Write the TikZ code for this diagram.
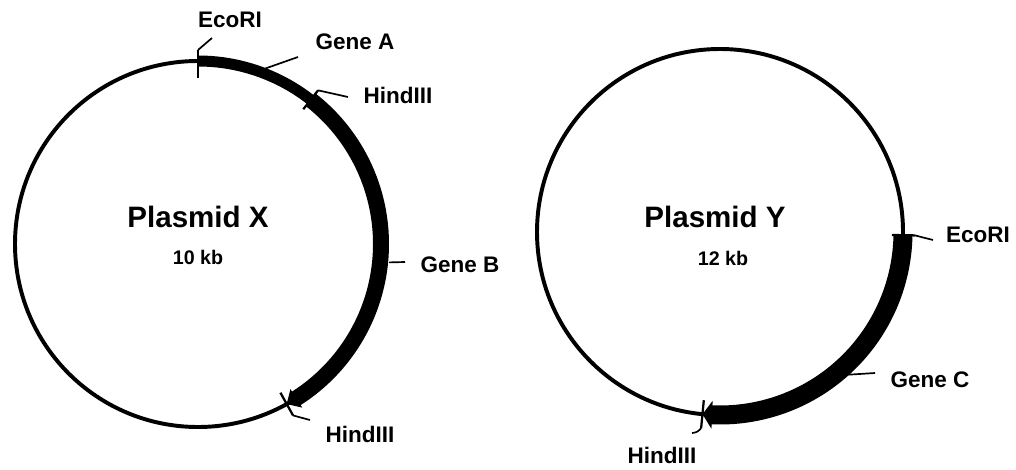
\documentclass[tikz,border=0pt]{standalone}
\usepackage{fontspec}
\setmainfont{Liberation Sans}

\begin{document}
\begin{tikzpicture}[x=0.025cm, y=0.025cm,
      ring/.style={line width=2.8pt},
      leader/.style={line width=1.2pt},
      cut/.style={line width=1.6pt}]
    \tikzstyle{lbl} = [font=\bfseries\fontsize{16}{18}\selectfont, inner sep=0pt]
    \tikzstyle{title} = [font=\bfseries\fontsize{21}{24}\selectfont, inner sep=0pt]
    \tikzstyle{size} = [font=\bfseries\fontsize{14}{16}\selectfont, inner sep=0pt]
    \useasboundingbox (0,0) rectangle (1016,469);

    % Plasmid X
    \coordinate (cX) at (198,225);
    \draw[ring] (cX) circle (183);
    \node[title] (nameX) at (198,252) {Plasmid X};
    \node[size] (sizeX) at (198,212) {10 kb};
    \begin{scope}[shift={(cX)}]
      \fill (90:177.5) arc (90:52:177.5) -- (52:188.5) arc (52:90:188.5) -- cycle;
      \fill (52:175) arc (52:-57.5:175) -- (-57.5:172) -- (-61:183)
        -- (-57.5:194) -- (-57.5:191) arc (-57.5:52:191) -- cycle;
      \coordinate (ecoXin) at (90:166);  \coordinate (ecoXout) at (90:194);
      \coordinate (hindXain) at (52:171); \coordinate (hindXaout) at (52:195);
      \coordinate (hindXbin) at (-61:170); \coordinate (hindXbout) at (-61:196);
      \coordinate (geneAat) at (69:188);
      \coordinate (geneBat) at (-5.5:192);
    \end{scope}
    \node[lbl] (ecoX) at (230,449) {EcoRI};
    \node[lbl] (geneA) at (355,427) {Gene A};
    \node[lbl] (hindXa) at (398,374) {HindIII};
    \node[lbl] (geneB) at (460,204) {Gene B};
    \node[lbl] (hindXb) at (360,35) {HindIII};
    \coordinate (ecoXend) at (212,431);
    \coordinate (geneAend) at (298,412);
    \coordinate (hindXaend) at (348,372);
    \coordinate (geneBend) at (405,207);
    \coordinate (hindXbend) at (310,49);
    \draw[cut] (ecoXin) -- (ecoXout);
    \draw[cut] (hindXain) -- (hindXaout);
    \draw[cut] (hindXbin) -- (hindXbout);
    \draw[leader] (ecoXout) -- (ecoXend);
    \draw[leader] (geneAat) -- (geneAend);
    \draw[leader] (hindXaout) -- (hindXaend);
    \draw[leader] (geneBat) -- (geneBend);
    \draw[leader] (hindXbout) -- (hindXbend);

    % Plasmid Y
    \coordinate (cY) at (720,237);
    \draw[ring] (cY) circle (183);
    \node[title] (nameY) at (715,252) {Plasmid Y};
    \node[size] (sizeY) at (723,211) {12 kb};
    \begin{scope}[shift={(cY)}]
      \fill (-1:173.5) arc (-1:-92.5:173.5) -- (-92.5:169) -- (-95.5:183)
        -- (-92.5:197) -- (-92.5:192.5) arc (-92.5:-1:192.5) -- cycle;
      \coordinate (ecoYin) at (-1:172);  \coordinate (ecoYout) at (-1:195);
      \coordinate (hindYin) at (-95.5:169); \coordinate (hindYout) at (-95.5:197);
      \coordinate (geneCat) at (-48:192);
    \end{scope}
    \node[lbl] (ecoY) at (978,234) {EcoRI};
    \node[lbl] (geneC) at (930,89) {Gene C};
    \node[lbl] (hindY) at (662,14) {HindIII};
    \coordinate (ecoYend) at (933,229);
    \coordinate (geneCend) at (875,96);
    \coordinate (hindYend) at (692,36);
    \draw[cut] (ecoYin) -- (ecoYout);
    \draw[cut] (hindYin) -- (hindYout);
    \draw[leader] (ecoYout) -- (ecoYend);
    \draw[leader] (geneCat) -- (geneCend);
    \draw[leader] (hindYout) to[bend left=25] (hindYend);
\end{tikzpicture}
\end{document}
